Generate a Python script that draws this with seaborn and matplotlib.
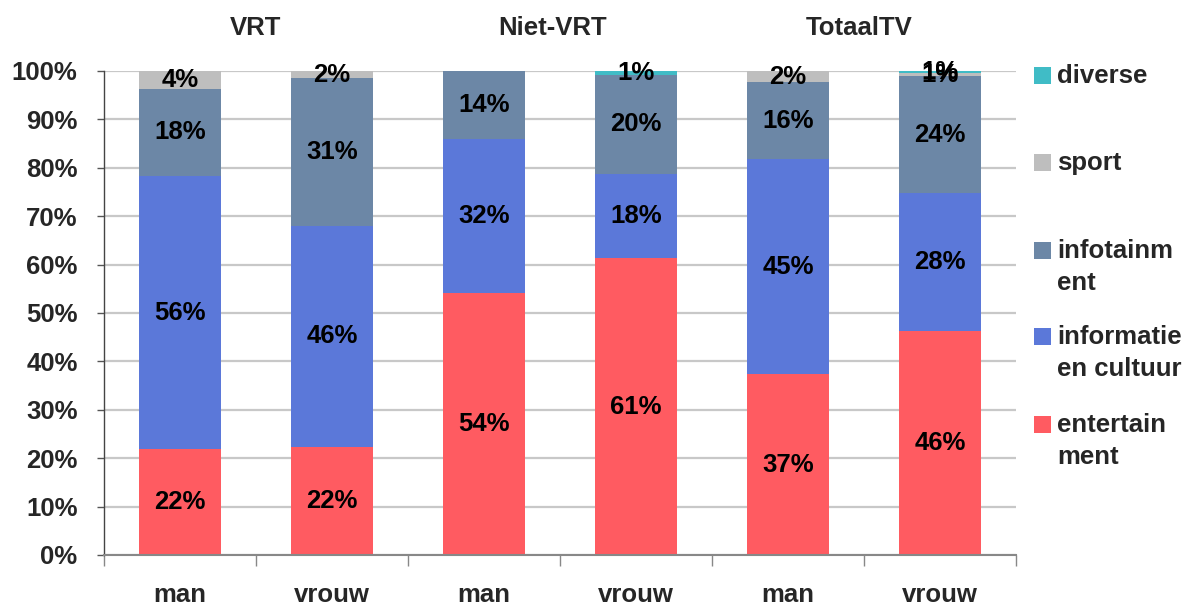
import matplotlib
matplotlib.use("Agg")
import matplotlib.pyplot as plt
import matplotlib.patches as mpatches
import matplotlib.transforms as mtransforms
import seaborn as sns
import numpy as np
import pandas as pd

# ---- data ----
groups = ["VRT", "Niet-VRT", "TotaalTV"]
bar_labels = ["man", "vrouw", "man", "vrouw", "man", "vrouw"]
series = ["entertainment", "informatie en cultuur", "infotainment", "sport", "diverse"]
legend_labels = ["entertain\nment", "informatie\nen cultuur", "infotainm\nent", "sport", "diverse"]
entertainment = [21.9, 22.3, 54.2, 61.3, 37.3, 46.3]
informatie = [56.4, 45.7, 31.7, 17.5, 44.5, 28.4]
infotainment = [18.0, 30.5, 14.1, 20.3, 15.9, 24.2]
sport = [3.7, 1.5, 0.0, 0.0, 2.3, 0.6]
diverse = [0.0, 0.0, 0.0, 0.9, 0.0, 0.5]
yticks = [0, 10, 20, 30, 40, 50, 60, 70, 80, 90, 100]

colors = ["#FF5B61", "#5B78D9", "#6C87A6", "#BEBEBE", "#40BCC6"]

sns.set_theme(style="white")
plt.rcParams['font.family'] = ['Liberation Sans', 'DejaVu Sans']
plt.rcParams['font.weight'] = 'bold'

values = np.array([entertainment, informatie, infotainment, sport, diverse])
cum = np.cumsum(values, axis=0)
pos = list(range(len(bar_labels)))

fig = plt.figure(figsize=(12.02, 6.07), dpi=100)
ax = fig.add_axes([104/1202, 1-555/607, (1016-104)/1202, (555-71)/607])

FS = 18.5
# gridlines
for t in yticks:
    ax.axhline(t, color="#C8C8C8", lw=1.6, zorder=0)

# stacked bars: draw from top cumulative down
for i in range(len(series)-1, -1, -1):
    df = pd.DataFrame({"pos": pos, "val": cum[i]})
    sns.barplot(data=df, x="pos", y="val", color=colors[i], width=0.54,
                saturation=1, linewidth=0, ax=ax, zorder=2)

# segment labels
for i in range(len(series)):
    for j in pos:
        v = values[i, j]
        if v <= 0:
            continue
        lab = f"{int(v + 0.5)}%"
        ymid = cum[i, j] - v / 2
        ax.text(j, ymid, lab, ha="center", va="center", fontsize=FS,
                fontweight="bold", color="black", zorder=5)

ax.set_xlim(-0.5, 5.5)
ax.set_ylim(0, 100)
ax.set_xlabel("")
ax.set_ylabel("")

ax.set_yticks(yticks)
ax.set_yticklabels([f"{t}%" for t in yticks], fontsize=FS, fontweight="bold")
ax.tick_params(axis="y", left=True, length=5, width=1, color="#555555", pad=14)

ax.set_xticks([p + 0.5 for p in [-1] + pos])
ax.set_xticklabels([])
ax.tick_params(axis="x", which="major", bottom=True, length=8, width=1, color="#888888")
ax.set_xticks(pos, minor=True)
ax.set_xticklabels(bar_labels, minor=True, fontsize=FS, fontweight="bold")
ax.tick_params(axis="x", which="minor", bottom=True, length=0, pad=20)

for s in ["top", "right"]:
    ax.spines[s].set_visible(False)
ax.spines["left"].set_color("#444444")
ax.spines["bottom"].set_color("#888888")
ax.spines["left"].set_linewidth(1)
ax.spines["bottom"].set_linewidth(1.5)

# group titles
tr = mtransforms.blended_transform_factory(ax.transData, fig.transFigure)
for g, x in zip(groups, [0.5, 2.45, 4.47]):
    ax.text(x, 1 - 28/607, g, transform=tr,
            ha="center", va="center", fontsize=FS, fontweight="bold")

# legend (manual layout)
leg_y = {"diverse": 76, "sport": 163, "infotainment": 251,
         "informatie en cultuur": 337, "entertainment": 425}
for i, name in enumerate(series):
    yc = leg_y[name]
    fig.patches.append(mpatches.Rectangle((1034/1202, 1-(yc+8)/607), 17/1202, 17/607,
                                          transform=fig.transFigure, facecolor=colors[i],
                                          edgecolor="none", figure=fig))
    for k, line in enumerate(legend_labels[i].split("\n")):
        fig.text(1057/1202, 1-(yc + 32*k)/607, line, ha="left", va="center",
                 fontsize=FS, fontweight="bold")

fig.savefig("out.png", dpi=100)
